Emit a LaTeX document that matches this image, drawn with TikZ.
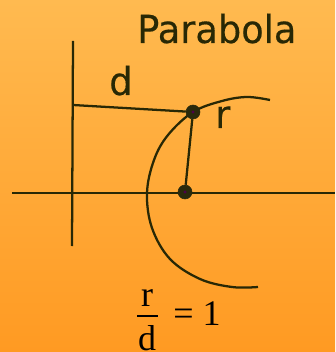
\documentclass[tikz,border=0pt]{standalone}
\usepackage{fontspec}
\setmainfont{Liberation Serif}
\newfontfamily\labfont[FakeStretch=0.95,FakeBold=0.4]{DejaVu Sans}
\begin{document}
\begin{tikzpicture}[x=0.75pt,y=-0.75pt,
  ink/.style={draw=inkc,line width=1.7pt},
  dotn/.style={circle,fill=dotc,draw=dotc,inner sep=0pt,minimum size=10.5pt},
  lab/.style={text=inkc,font=\labfont\fontsize{29}{30}\selectfont,inner sep=0pt,anchor=base west},
  mth/.style={text=black,font=\fontsize{27}{28}\selectfont,inner sep=0pt,anchor=base}]
\definecolor{inkc}{RGB}{40,40,5}
\definecolor{dotc}{RGB}{42,42,12}
\definecolor{topc}{RGB}{255,186,80}
\definecolor{botc}{RGB}{255,154,34}
\useasboundingbox (0,0) rectangle (335,352);
\shade[top color=topc,bottom color=botc] (0,0) rectangle (335,352);
% axes
\coordinate (vt) at (73,41);
\coordinate (vb) at (72,246);
\coordinate (hl) at (12,193);
\coordinate (hr) at (335,193);
\coordinate (dfoot) at (73,105);
\draw[ink] (vt) -- (vb);
\draw[ink] (hl) -- (hr);
% curve
\draw[ink] plot[smooth,tension=0.6] coordinates {(270,100) (247,97) (222,101) (193,112) (168,135) (154,160) (147,193) (152,228) (170,259) (200,279) (232,287) (258,287)};
% points
\node[dotn] (P) at (193,112) {};
\node[dotn] (F) at (185,192) {};
\fill[violet!60!black] (P) circle (1.3pt);
\fill[violet!60!black] (F) circle (1.3pt);
\draw[ink] (dfoot) -- (P);
\draw[ink] (P) -- (F);
% labels
\node[lab] (title) at (137,43) {Parabola};
\node[lab] (dl) at (109,95) {d};
\node[lab] (rl) at (215,128) {r};
% fraction
\node[mth] (num) at (147,306) {r};
\node[mth] (den) at (147,350) {d};
\coordinate (barl) at (137,316);
\coordinate (barr) at (158,316);
\draw[line width=1.3pt] (barl) -- (barr);
\node[mth,anchor=base west] (eq) at (173,325) {= 1};
\end{tikzpicture}
\end{document}
